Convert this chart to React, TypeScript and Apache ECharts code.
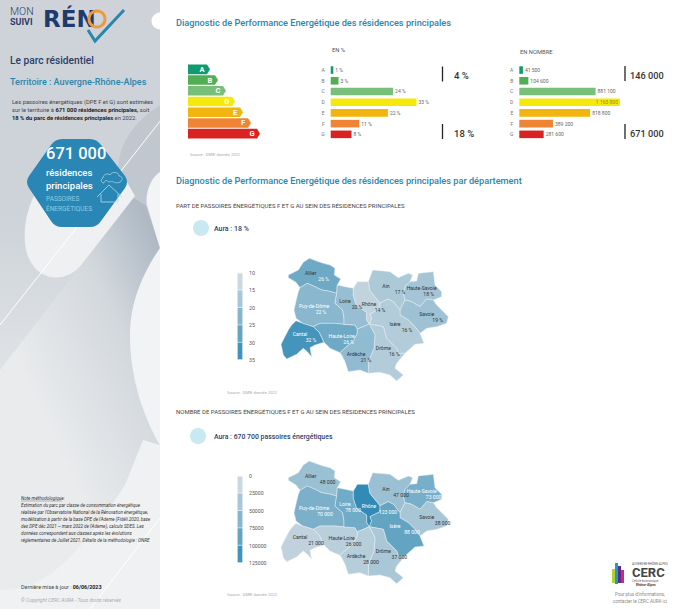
import React, { useEffect, useRef } from "react";
import * as echarts from "echarts";

const FONT = "Roboto";
const classes = ["A", "B", "C", "D", "E", "F", "G"];
const classColors = ["#0f9b6f", "#51ae52", "#78bf79", "#f5e90b", "#f2b40e", "#ee8434", "#da2220"];
const arrowLengths = [22, 30, 38, 47, 55, 63, 72];
const sharePct = [1, 3, 24, 33, 22, 11, 8];
const shareCount = [41500, 104600, 881100, 1163800, 818800, 389200, 281600];

const regionNames = ["Allier", "Puy-de-Dôme", "Cantal", "Haute-Loire", "Loire", "Rhône", "Ain", "Haute-Savoie", "Savoie", "Isère", "Drôme", "Ardèche"];
const regionPct = [26, 22, 32, 26, 20, 14, 17, 18, 19, 16, 16, 21];
const regionCount = [48000, 70000, 21000, 26000, 78000, 123000, 47000, 73000, 38000, 88000, 37000, 28000];
const labelShiftPct = [13, 7, 11, 7, 12, 11, 14, 7, 11, 12, 11, 10];
const labelShiftCount = [17, 11, 16, 12, 8, 19, 15, 12, 16, 17, 16, 15];
const legendColors = ["#ccd8e0", "#a9c7d7", "#86b6cd", "#63a4c3", "#4093ba"];
const pctSteps = [15, 20, 25, 30, 35];
const countSteps = [25000, 50000, 75000, 100000, 125000];

const regionShapes: Record<string, number[][]> = {
  Allier: [[205,60],[235,45],[250,22],[268,10],[290,18],[310,25],[330,30],[345,40],[343,60],[362,72],[352,90],[350,115],[325,108],[305,105],[285,95],[262,85],[240,98],[228,82],[205,68]],
  "Puy-de-Dôme": [[240,98],[262,85],[285,95],[305,105],[325,108],[350,115],[345,145],[368,165],[372,190],[372,208],[345,205],[300,205],[280,215],[248,205],[228,190],[222,165],[230,130],[235,110]],
  Cantal: [[228,197],[248,205],[280,215],[298,232],[312,262],[285,270],[270,278],[275,305],[262,290],[250,280],[230,298],[200,312],[190,300],[183,268],[205,225],[215,210]],
  "Haute-Loire": [[280,215],[300,205],[345,205],[372,208],[405,210],[412,222],[412,235],[400,258],[368,285],[360,293],[330,280],[312,262],[298,232]],
  Loire: [[352,90],[375,95],[400,100],[400,122],[410,152],[440,172],[440,194],[448,207],[430,215],[412,222],[405,210],[372,208],[372,190],[368,165],[345,145],[350,115]],
  Rhône: [[400,100],[412,80],[445,80],[450,107],[480,144],[480,162],[450,177],[455,190],[448,207],[440,194],[440,172],[410,152],[400,122]],
  Ain: [[445,80],[458,45],[510,50],[535,68],[565,55],[578,60],[570,80],[555,95],[550,115],[555,135],[540,165],[520,140],[505,132],[480,144],[450,107]],
  "Haute-Savoie": [[555,95],[570,80],[590,78],[595,55],[640,50],[645,90],[665,110],[665,125],[640,135],[620,132],[600,155],[575,140],[555,135],[550,115]],
  Savoie: [[555,135],[575,140],[600,155],[620,132],[640,135],[650,150],[685,185],[680,205],[650,215],[620,220],[600,235],[585,215],[565,195],[540,180],[540,165]],
  Isère: [[480,162],[480,144],[505,132],[520,140],[540,165],[540,180],[565,195],[585,215],[600,235],[612,265],[585,268],[555,295],[535,295],[530,280],[500,250],[490,215],[448,207],[455,190],[450,177]],
  Drôme: [[448,207],[490,215],[500,250],[530,280],[535,295],[555,295],[530,325],[525,340],[550,360],[530,378],[510,360],[480,352],[445,355],[445,320],[462,280],[465,240]],
  Ardèche: [[412,222],[430,215],[448,207],[465,240],[462,280],[445,320],[445,355],[420,345],[385,350],[375,320],[365,300],[360,293],[368,285],[400,258],[412,235]],
};
const nameAnchors = [[272,64],[282,161],[240,247],[365,251],[375,147],[447,155],[498,102],[605,108],[620,187],[525,215],[490,289],[408,305]];

const geoJson = (anchors: number[][]) => ({
  type: "FeatureCollection",
  features: regionNames.map((name, i) => {
    const ring = regionShapes[name];
    return {
      type: "Feature",
      properties: { name, cp: anchors[i] },
      geometry: { type: "Polygon", coordinates: [[...ring, ring[0]]] },
    };
  }),
});
echarts.registerMap("araPct", geoJson(nameAnchors) as any);
echarts.registerMap("araCount", geoJson(nameAnchors) as any);

const hexD = "M62 139 L90 139 Q97 139 101 145 L125 176 Q129 182 125 188 L101 221 Q97 227 90 227 L62 227 Q55 227 51 221 L29 188 Q25 182 29 176 L51 145 Q55 139 62 139 Z";
const cloudD = "M104 183 C101 183 100 179 103 178 C103 174 108 173 110 175 C112 171 119 172 119 176 C123 176 123 181 120 182 C117 184 113 182 112 181 C110 183 107 181 106 180 C105 181 104 182 104 183 Z";
const bgCentral = "M0 370 L82 264 L130 196 L146 205 L160 248 C145 270 130 300 130 335 C130 380 145 420 160 445 L160 609 L0 609 Z";
const bgBlob = "M45 180 C25 200 18 245 32 264 C44 282 68 282 82 264 L135 196 L120 170 Z";
const bgRightLow = "M160 248 C145 270 130 300 130 335 C130 380 145 420 160 445 Z";
const bgRightUp = "M160 172 C150 178 145 195 147 205 L160 248 Z";
const bgBottom = "M0 590 C50 592 85 545 125 485 L143 440 L160 445 L160 609 L0 609 Z";
const bgTopShade = "M120 190 C112 150 130 125 160 105 L160 172 C150 178 145 195 147 205 Z";
echarts.graphic.registerShape("hexa", echarts.graphic.extendPath(hexD, {}));
echarts.graphic.registerShape("cloudIcon", echarts.graphic.extendPath(cloudD, {}));
echarts.graphic.registerShape("bgCentral", echarts.graphic.extendPath(bgCentral, {}));
echarts.graphic.registerShape("bgBlob", echarts.graphic.extendPath(bgBlob, {}));
echarts.graphic.registerShape("bgRightLow", echarts.graphic.extendPath(bgRightLow, {}));
echarts.graphic.registerShape("bgRightUp", echarts.graphic.extendPath(bgRightUp, {}));
echarts.graphic.registerShape("bgBottom", echarts.graphic.extendPath(bgBottom, {}));
echarts.graphic.registerShape("bgTopShade", echarts.graphic.extendPath(bgTopShade, {}));

const T = (x: number, y: number, text: string, fontSize: number, fill: string, extra: any = {}) => ({
  type: "text",
  x,
  y,
  silent: true,
  style: { text, fontSize, fill, fontFamily: FONT, verticalAlign: "middle", align: "left", ...extra },
});
const L = (x1: number, y1: number, x2: number, y2: number, stroke: string, lineWidth: number) => ({
  type: "line",
  silent: true,
  shape: { x1, y1, x2, y2 },
  style: { stroke, lineWidth },
});

const TITLE = "#2a86ad";
const NAVY = "#2c3e6a";
const richBold = (size: number) => ({
  n: { fontSize: size, fill: "#444", fontFamily: FONT },
  b: { fontSize: size, fill: "#222", fontFamily: FONT, fontWeight: 700 },
});

const graphics: any[] = [
  {
    type: "rect",
    shape: { x: 0, y: 0, width: 160, height: 609 },
    style: { fill: new echarts.graphic.LinearGradient(0, 0, 0, 1, [{ offset: 0, color: "#cfd3d9" }, { offset: 0.35, color: "#cdd3d9" }, { offset: 0.6, color: "#dfe2e5" }, { offset: 1, color: "#eceef0" }]) },
  },
  { type: "bgTopShade", style: { fill: "#b9c0c8", opacity: 0.6 } },
  {
    type: "bgCentral",
    style: { fill: new echarts.graphic.LinearGradient(0.85, 0, 0.35, 0.6, [{ offset: 0, color: "#aeb9c4" }, { offset: 0.4, color: "#d3d8dd" }, { offset: 1, color: "#e9ebed" }]) },
  },
  { type: "bgBlob", style: { fill: "#eef0f2" } },
  { type: "bgRightLow", style: { fill: "#f2f3f5" } },
  { type: "bgRightUp", style: { fill: "#f3f4f5" } },
  { type: "bgBottom", style: { fill: "#eff1f2" } },
  L(161, 120, 0, 325, "#ffffff", 1),
  L(160, 518, 90, 609, "#ffffff", 1),
  { type: "circle", shape: { cx: 160, cy: 21, r: 8.5 }, style: { fill: "#fff" } },
  // logo
  T(10, 11.5, "MON", 10.5, NAVY, { fontWeight: 300 }),
  T(10, 22, "SUIVI", 9, NAVY, { fontWeight: 700 }),
  T(43, 19, "RÉN", 23, "#1f3b6e", { fontWeight: 900, fontFamily: "DejaVu Sans" }),
  { type: "circle", shape: { cx: 97, cy: 19, r: 8 }, style: { fill: "none", stroke: "#ee9a3a", lineWidth: 3 } },
  { type: "polyline", shape: { points: [[88, 30], [95, 41], [124, 10]] }, style: { fill: "none", stroke: TITLE, lineWidth: 3 } },
  // side texts
  T(10, 60, "Le parc résidentiel", 10.2, NAVY, { fontWeight: 500 }),
  T(10, 82, "Territoire : Auvergne-Rhône-Alpes", 9, TITLE, { fontWeight: 500 }),
  T(12, 102, "Les passoires énergétiques (DPE F et G) sont estimées", 5.8, "#444"),
  T(12, 110, "{n|sur le territoire à }{b|671 000 résidences principales,}{n| soit}", 5.8, "#444", { rich: richBold(5.8) }),
  T(12, 118, "{b|18 % du parc de résidences principales}{n| en 2022.}", 5.8, "#444", { rich: richBold(5.8) }),
  { type: "hexa", style: { fill: "#2a86b4" } },
  T(46, 153, "671 000", 16.5, "#fff", { fontWeight: 500 }),
  T(46, 172, "résidences", 9.5, "#fff", { fontWeight: 500 }),
  T(46, 185, "principales", 9.5, "#fff", { fontWeight: 500 }),
  T(46, 199, "PASSOIRES", 6.5, "#8fcbe0"),
  T(46, 209, "ÉNERGÉTIQUES", 6.5, "#8fcbe0"),
  { type: "polyline", shape: { points: [[97, 197], [109, 185], [122, 197]] }, style: { fill: "none", stroke: "#b5dcea", lineWidth: 0.8 } },
  { type: "polyline", shape: { points: [[101, 194], [101, 202], [118, 202], [118, 194]] }, style: { fill: "none", stroke: "#b5dcea", lineWidth: 0.8 } },
  { type: "cloudIcon", style: { fill: "none", stroke: "#b5dcea", lineWidth: 0.7 } },
  // note
  T(21, 498, "Note méthodologique:", 4.55, "#333", { fontStyle: "italic" }),
  L(21, 501, 62, 501, "#555", 0.4),
  T(21, 505, "Estimation du parc par classe de consommation énergétique", 4.55, "#333", { fontStyle: "italic" }),
  T(21, 512, "réalisée par l'Observatoire National de la Rénovation énergétique,", 4.55, "#333", { fontStyle: "italic" }),
  T(21, 519, "modélisation à partir de la base DPE de l'Ademe (Fidéli 2020, base", 4.55, "#333", { fontStyle: "italic" }),
  T(21, 526, "des DPE déc 2021 – mars 2022 de l'Ademe), calculs SDES. Les", 4.55, "#333", { fontStyle: "italic" }),
  T(21, 533, "données correspondent aux classes après les évolutions", 4.55, "#333", { fontStyle: "italic" }),
  T(21, 540, "réglementaires de Juillet 2021. Détails de la méthodologie : ONRE", 4.55, "#333", { fontStyle: "italic" }),
  T(21, 587, "{n|Dernière mise à jour : }{b|06/06/2023}", 5.4, "#444", { rich: richBold(5.4) }),
  T(21, 600, "© Copyright CERC AURA - Tous droits réservés", 5, "#aaaaaa", { fontStyle: "italic" }),
  // titles
  T(176, 22, "Diagnostic de Performance Energétique des résidences principales", 9.2, TITLE, { fontWeight: 500 }),
  T(176, 180, "Diagnostic de Performance Energétique des résidences principales par département", 9.2, TITLE, { fontWeight: 500 }),
  T(332, 50, "EN %", 5.8, "#555"),
  T(520, 52, "EN NOMBRE", 5.8, "#555"),
  T(190, 154, "Source : DMIE donnée 2022", 4.1, "#aaaaaa"),
  L(442.5, 66.5, 442.5, 81.5, "#222", 1.3),
  L(442.5, 124, 442.5, 139, "#222", 1.3),
  T(454, 75, "4 %", 9.5, "#333", { fontWeight: 500 }),
  T(454, 133, "18 %", 9.5, "#333", { fontWeight: 500 }),
  L(625, 66, 625, 81, "#222", 1.3),
  L(625, 124, 625, 139, "#222", 1.3),
  T(630, 75, "146 000", 9.2, "#333", { fontWeight: 500 }),
  T(630, 133, "671 000", 9.2, "#333", { fontWeight: 500 }),
  // map headings
  T(176, 205, "PART DE PASSOIRES ÉNERGÉTIQUES F ET G AU SEIN DES RÉSIDENCES PRINCIPALES", 6, "#444"),
  { type: "circle", shape: { cx: 201, cy: 228, r: 8 }, style: { fill: "#c8e8f2" } },
  T(214, 229, "Aura : 18 %", 7, NAVY, { fontWeight: 500 }),
  T(227, 392, "Source : DMIE donnée 2022", 4.1, "#aaaaaa"),
  T(176, 411, "NOMBRE DE PASSOIRES ÉNERGÉTIQUES F ET G AU SEIN DES RÉSIDENCES PRINCIPALES", 6, "#444"),
  { type: "circle", shape: { cx: 198, cy: 436, r: 8 }, style: { fill: "#c8e8f2" } },
  T(214, 437, "Aura : 670 700 passoires énergétiques", 6.9, NAVY, { fontWeight: 500 }),
  T(227, 594, "Source : DMIE donnée 2022", 4.1, "#aaaaaa"),
  // CERC logo
  { type: "rect", shape: { x: 612, y: 569, width: 3, height: 14 }, style: { fill: "#b7cf2d" } },
  { type: "rect", shape: { x: 615, y: 563, width: 3, height: 21 }, style: { fill: "#1f9ec4" } },
  { type: "rect", shape: { x: 618, y: 566, width: 3, height: 17 }, style: { fill: "#5b2d86" } },
  { type: "rect", shape: { x: 621, y: 570, width: 3, height: 13 }, style: { fill: "#d6247e" } },
  T(632, 563.5, "AUVERGNE-RHÔNE-ALPES", 3, "#555"),
  T(632, 572, "CERC", 13, "#444", { fontWeight: 700 }),
  T(632, 580.5, "Cellule économique", 3, "#666"),
  T(636, 584.5, "Rhône-Alpes", 3.4, "#444", { fontWeight: 700 }),
  T(640, 594, "Pour plus d'informations,", 4.5, "#888", { align: "center" }),
  T(640, 601, "contacter le CERC AURA ici", 4.5, "#888", { align: "center" }),
];

const thousand = (v: number) => String(v).replace(/\B(?=(\d{3})+(?!\d))/g, " ");
const colored = (vals: number[]) => vals.map((v, i) => ({ value: v, itemStyle: { color: classColors[i] } }));
const hiddenX = (gridIndex: number, max: number) => ({ type: "value" as const, gridIndex, min: 0, max, show: false });
const catY = (gridIndex: number, show: boolean) => ({
  type: "category" as const,
  gridIndex,
  data: classes,
  inverse: true,
  axisLine: { show: false },
  axisTick: { show: false },
  axisLabel: { show, fontSize: 5, color: "#777", margin: 6, fontFamily: FONT },
});

const legendAxes = (gridIndex: number, min: number, max: number, interval: number) => ({
  x: { type: "category" as const, gridIndex, data: [""], show: false },
  y: {
    type: "value" as const,
    gridIndex,
    min,
    max,
    interval,
    inverse: true,
    position: "right" as const,
    axisLine: { show: false },
    axisTick: { show: false },
    splitLine: { show: false },
    axisLabel: { fontSize: 5.2, color: "#555", margin: 6, fontFamily: FONT, align: "left" as const, formatter: (v: number) => String(v) },
  },
});
const leg1 = legendAxes(3, 10, 35, 5);
const leg2 = legendAxes(4, 0, 125000, 25000);

const legendSeries = (steps: number[], axisIdx: number) =>
  steps
    .map((s, i) => ({
      type: "bar" as const,
      xAxisIndex: axisIdx,
      yAxisIndex: axisIdx,
      data: [s],
      barWidth: 6,
      barGap: "-100%",
      silent: true,
      itemStyle: { color: legendColors[i], borderColor: "#fff", borderWidth: 0.6 },
    }))
    .reverse();

const mapSeries = (map: string, values: number[], shifts: number[], top: number, isPct: boolean, whiteFrom: number) => ({
  type: "map" as const,
  map,
  projection: { project: (p: number[]) => p, unproject: (p: number[]) => p },
  left: 220 + 183 / 3,
  top,
  width: (685 - 183) / 3,
  height: (378 - 10) / 3,
  roam: false,
  silent: true,
  selectedMode: false,
  itemStyle: { borderColor: "#e9eef2", borderWidth: 0.5 },
  data: regionNames.map((name, i) => {
    const white = values[i] >= whiteFrom;
    const nameCol = white && name !== "Allier" ? "#ffffff" : "#333333";
    const valCol = white ? "#ffffff" : "#333333";
    return {
      name,
      value: values[i],
      label: {
        show: true,
        formatter: `{n|${name}}\n{v|${isPct ? values[i] + " %" : thousand(values[i])}}`,
        rich: {
          n: { fontSize: 5.1, color: nameCol, fontFamily: FONT, lineHeight: 6 },
          v: { fontSize: 5.1, color: valCol, fontFamily: FONT, lineHeight: 6, padding: [0, 0, 0, shifts[i] * 2] },
        },
      },
    };
  }),
});

const option: any = {
  animation: false,
  backgroundColor: "#ffffff",
  textStyle: { fontFamily: FONT },
  graphic: { elements: graphics },
  grid: [
    { left: 330.7, top: 64.7, width: 104, height: 75 },
    { left: 519.3, top: 64.7, width: 100.7, height: 75 },
    { left: 188, top: 64, width: 72, height: 75 },
    { left: 237, top: 273, width: 6, height: 87 },
    { left: 237, top: 476, width: 6, height: 87 },
  ],
  xAxis: [hiddenX(0, 40), hiddenX(1, 1163800), hiddenX(2, 72), leg1.x, leg2.x],
  yAxis: [catY(0, true), catY(1, true), catY(2, false), leg1.y, leg2.y],
  visualMap: [
    { type: "continuous", show: false, min: 10, max: 35, seriesIndex: 3, inRange: { color: ["#dde1e5", "#2f8ab5"] } },
    { type: "continuous", show: false, min: 0, max: 125000, seriesIndex: 4, inRange: { color: ["#dde1e5", "#2f8ab5"] } },
  ],
  series: [
    {
      type: "bar",
      xAxisIndex: 0,
      yAxisIndex: 0,
      barWidth: 7.6,
      silent: true,
      data: colored(sharePct),
      label: { show: true, position: "right", distance: 2, fontSize: 5, color: "#666", fontFamily: FONT, formatter: (p: any) => `${p.value} %` },
    },
    {
      type: "bar",
      xAxisIndex: 1,
      yAxisIndex: 1,
      barWidth: 7.6,
      silent: true,
      data: colored(shareCount).map((d) =>
        d.value === Math.max(...shareCount)
          ? { ...d, label: { show: true, position: "insideRight", distance: 2, color: "#8f8f14", fontSize: 5, fontFamily: FONT } }
          : d,
      ),
      label: { show: true, position: "right", distance: 2, fontSize: 5, color: "#666", fontFamily: FONT, formatter: (p: any) => thousand(p.value) },
    },
    {
      type: "custom",
      xAxisIndex: 2,
      yAxisIndex: 2,
      silent: true,
      data: arrowLengths.map((v, i) => [v, i]),
      encode: { x: 0, y: 1 },
      renderItem: (params: any, api: any) => {
        const [tip, cy] = api.coord([api.value(0), api.value(1)]);
        const [x0] = api.coord([0, api.value(1)]);
        const h = 4.8;
        const neck = tip - 3;
        return {
          type: "group",
          children: [
            {
              type: "polygon",
              shape: { points: [[x0, cy - h], [neck, cy - h], [tip, cy], [neck, cy + h], [x0, cy + h]] },
              style: { fill: classColors[params.dataIndex] },
            },
            {
              type: "text",
              style: {
                text: classes[params.dataIndex],
                x: tip - 8,
                y: cy,
                align: "center",
                verticalAlign: "middle",
                fill: "#ffffff",
                fontSize: 7.5,
                fontWeight: 700,
                fontFamily: FONT,
              },
            },
          ],
        };
      },
    },
    mapSeries("araPct", regionPct, labelShiftPct, 255 + 10 / 3, true, 22),
    mapSeries("araCount", regionCount, labelShiftCount, 461, false, 70000),
    ...legendSeries(pctSteps, 3),
    ...legendSeries(countSteps, 4),
  ],
};

export default function App() {
  const ref = useRef<HTMLDivElement>(null);
  useEffect(() => {
    const chart = echarts.init(ref.current!, undefined, { renderer: "svg" });
    chart.setOption(option);
    return () => chart.dispose();
  }, []);
  return <div ref={ref} style={{ position: "absolute", left: 0, top: 0, width: 675, height: 609 }} />;
}
